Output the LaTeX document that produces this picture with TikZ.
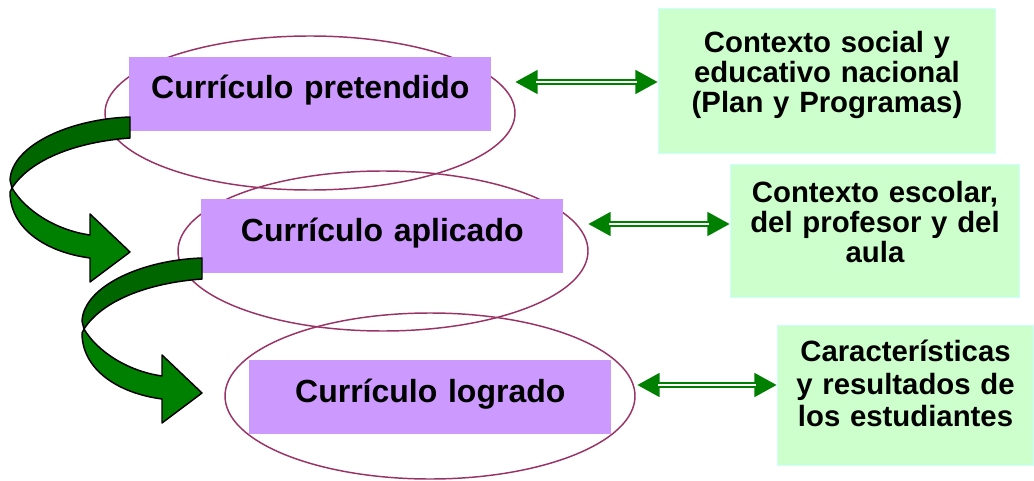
\documentclass[tikz,border=0pt]{standalone}
\usepackage{fontspec}
\setmainfont{Liberation Sans}
\usetikzlibrary{arrows.meta}

\definecolor{lila}{HTML}{CC99FF}
\definecolor{vino}{HTML}{993366}
\definecolor{pasto}{HTML}{CCFFCC}
\definecolor{celeste}{HTML}{CCFFFF}
\definecolor{verde}{HTML}{008000}
\definecolor{verdeosc}{HTML}{006600}

\tikzset{
  curbox/.style={fill=lila, inner sep=0pt, anchor=north west, text width=271.5pt, align=center,
    text height=31.5pt, text depth=24pt, font=\bfseries\fontsize{24}{28}\selectfont},
  ctxbox/.style={fill=pasto, draw=celeste, line width=0.75pt, inner sep=0pt, anchor=north west,
    align=center, font=\bfseries\fontsize{22}{22.5}\selectfont},
  dblarrow/.style={draw=verde, line width=5pt, {Triangle[length=17pt,width=17pt]}-{Triangle[length=17pt,width=17pt]}},
  dblgap/.style={draw=white, line width=1pt, shorten <=16pt, shorten >=16pt},
  ribbon/.style={draw=black, line width=1.1pt, line join=round}
}

\begin{document}
\begin{tikzpicture}[x=0.75pt,y=0.75pt,yscale=-1,xscale=1]
    \useasboundingbox (0,0) rectangle (1034,481);

    %Shape: Ellipse
    \draw [color=vino, line width=1.1pt] (310,113) ellipse (205 and 77);
    %Shape: Ellipse
    \draw [color=vino, line width=1.1pt] (383,251) ellipse (205 and 80);
    %Shape: Ellipse
    \draw [color=vino, line width=1.1pt] (430,396) ellipse (205 and 83);

    % Text Node
    \node [curbox] (pret) at (129,56.5) {Currículo pretendido};
    % Text Node
    \node [curbox] (apli) at (201,199) {Currículo aplicado};
    % Text Node
    \node [curbox] (logr) at (249,360) {Currículo logrado};

    %Shape: Curved Arrow
    \begin{scope}[shift={(0,0)}]
        \draw [ribbon, fill=verdeosc] (130,117) .. controls (70,119) and (12,145) .. (10,180) -- (12,188) .. controls (30,160) and (75,142) .. (130,138) -- cycle ;
        \draw [ribbon, fill=verde] (12,188) .. controls (25,210) and (55,230) .. (90,235) -- (90,214) -- (130,252) -- (90,282) -- (90,258) .. controls (45,252) and (10,228) .. (10,192) -- cycle ;
    \end{scope}
    %Shape: Curved Arrow
    \begin{scope}[shift={(72,141)}]
        \draw [ribbon, fill=verdeosc] (130,117) .. controls (70,119) and (12,145) .. (10,180) -- (12,188) .. controls (30,160) and (75,142) .. (130,138) -- cycle ;
        \draw [ribbon, fill=verde] (12,188) .. controls (25,210) and (55,230) .. (90,235) -- (90,214) -- (130,252) -- (90,282) -- (90,258) .. controls (45,252) and (10,228) .. (10,192) -- cycle ;
    \end{scope}

    % Text Node
    \node [ctxbox, text width=252.75pt, text height=33pt, text depth=75.75pt] (ctxnac) at (658,8)
        {Contexto social y\\educativo nacional\\(Plan y Programas)};
    % Text Node
    \node [ctxbox, text width=216.75pt, text height=28.5pt, text depth=71.25pt] (ctxesc) at (730,164)
        {Contexto escolar,\\del profesor y del\\aula};
    % Text Node
    \node [ctxbox, text width=192pt, text height=27pt, text depth=78pt,
        font=\bfseries\fontsize{22}{24.5}\selectfont] (ctxest) at (777,325)
        {Características\\y resultados de\\los estudiantes};

    %Straight Lines
    \coordinate (p1) at (515,82);
    \draw [dblarrow] (p1) -- (p1 -| ctxnac.west) ;
    \draw [dblgap] (p1) -- (p1 -| ctxnac.west) ;
    %Straight Lines
    \coordinate (p2) at (588,224);
    \draw [dblarrow] (p2) -- (p2 -| ctxesc.west) ;
    \draw [dblgap] (p2) -- (p2 -| ctxesc.west) ;
    %Straight Lines
    \coordinate (p3) at (637,385);
    \draw [dblarrow] (p3) -- (p3 -| ctxest.west) ;
    \draw [dblgap] (p3) -- (p3 -| ctxest.west) ;

\end{tikzpicture}
\end{document}
